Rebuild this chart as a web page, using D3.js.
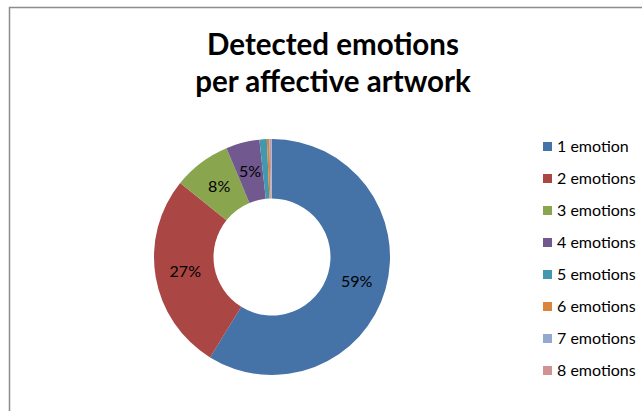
<!DOCTYPE html>
<html>
<head>
<meta charset="utf-8">
<script src="https://cdn.jsdelivr.net/npm/d3@7"></script>
<style>
  body { margin: 0; background: #fff; }
  svg { font-family: Lato, "Open Sans", sans-serif; }
</style>
</head>
<body>
<div id="the_chart"></div>
<script>
// share of artworks by number of detected emotions (percent)
var categories = ["1 emotion", "2 emotions", "3 emotions", "4 emotions",
                  "5 emotions", "6 emotions", "7 emotions", "8 emotions"];
var values = [58.8, 27.0, 7.9, 4.6, 1.0, 0.35, 0.25, 0.1];
var colors = ["#4572A7", "#AA4643", "#89A54E", "#71588F",
              "#4198AF", "#DB843D", "#93A9CF", "#D19392"];
var titleLines = ["Detected emotions", "per affective artwork"];

var w = 642, h = 411;

var svg = d3.select("#the_chart")
  .append("svg")
  .attr("width", w)
  .attr("height", h);

// chart frame (cut off at right and bottom)
svg.append("rect")
  .attr("x", 9.5)
  .attr("y", 7.5)
  .attr("width", 700)
  .attr("height", 500)
  .attr("fill", "none")
  .attr("stroke", "#8c8c8c")
  .attr("stroke-width", 1.5);

svg.append("text")
  .attr("text-anchor", "middle")
  .attr("font-weight", "bold")
  .attr("font-size", 29.5)
  .attr("fill", "#000")
  .selectAll("tspan")
  .data(titleLines)
  .enter().append("tspan")
  .attr("x", 333)
  .attr("y", function (d, i) { return 55 + i * 37; })
  .text(function (d) { return d; });

var cx = 272, cy = 257, outerR = 118, innerR = 58.5;

var pie = d3.pie().sort(null).value(function (d) { return d; });
var arc = d3.arc().innerRadius(innerR).outerRadius(outerR);
var labelArc = d3.arc().innerRadius(88).outerRadius(88);

var color = d3.scaleOrdinal().domain(categories).range(colors);

var g = svg.append("g")
  .attr("transform", "translate(" + cx + "," + cy + ")");

var arcs = pie(values);

g.selectAll("path")
  .data(arcs)
  .enter().append("path")
  .attr("d", arc)
  .attr("fill", function (d, i) { return color(categories[i]); });

// only the four large slices carry labels
g.selectAll("text.lbl")
  .data(arcs.filter(function (d) { return d.value >= 3; }))
  .enter().append("text")
  .attr("class", "lbl")
  .attr("transform", function (d) { return "translate(" + labelArc.centroid(d) + ")"; })
  .attr("text-anchor", "middle")
  .attr("dy", "0.35em")
  .attr("font-size", 16)
  .attr("fill", "#000")
  .text(function (d) { return Math.round(d.value) + "%"; });

var legend = svg.append("g")
  .attr("transform", "translate(543,142)");

var rows = legend.selectAll("g")
  .data(categories)
  .enter().append("g")
  .attr("transform", function (d, i) { return "translate(0," + i * 32 + ")"; });

rows.append("rect")
  .attr("width", 9)
  .attr("height", 9)
  .attr("fill", function (d) { return color(d); });

rows.append("text")
  .attr("x", 14)
  .attr("y", 4.5)
  .attr("dy", "0.35em")
  .attr("font-size", 16)
  .attr("fill", "#000")
  .text(function (d) { return d; });
</script>
</body>
</html>
